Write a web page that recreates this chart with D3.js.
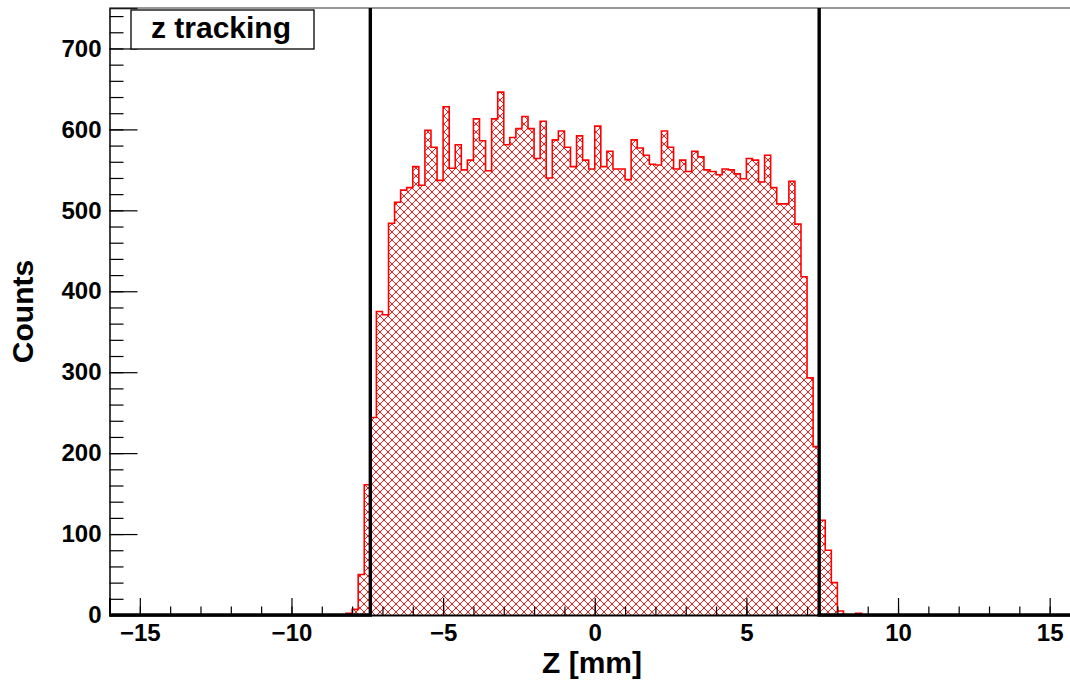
<!DOCTYPE html>
<html lang="en">
<head>
  <meta charset="UTF-8">
  <title>z tracking</title>
  <script src="https://d3js.org/d3.v7.min.js"></script>
  <style>
    body { margin: 0; background: white; }
    svg { display: block; font-family: "Liberation Sans", Arial, sans-serif; font-weight: bold; }
    .axis path, .axis line { stroke: black; }
    .axis text { font-size: 24px; font-weight: bold; fill: black; font-family: "Liberation Sans", Arial, sans-serif; }
  </style>
</head>
<body>
<svg id="chart" width="1070" height="681"></svg>
<script>
  // histogram: low edge of first filled bin, bin width, counts per bin
  const histLow = -8.2;
  const binWidth = 0.2;
  const counts = [
    2, 7, 50, 161, 244, 375, 371, 484, 510, 525,
    528, 554, 531, 599, 578, 537, 628, 552, 581, 550,
    562, 613, 586, 549, 613, 646, 581, 590, 601, 616,
    601, 564, 610, 540, 587, 598, 578, 554, 592, 562,
    551, 604, 554, 573, 551, 551, 538, 587, 577, 568,
    557, 556, 598, 578, 551, 562, 548, 573, 566, 550,
    548, 544, 551, 550, 545, 539, 564, 562, 535, 568,
    528, 508, 508, 536, 483, 418, 293, 208, 117, 80,
    40, 5, 0, 0, 2
  ];
  const cutLines = [-7.4, 7.4];          // vertical cut markers
  const xMajor = [-15, -10, -5, 0, 5, 10, 15];
  const yMajor = [0, 100, 200, 300, 400, 500, 600, 700];
  const xRange = [-16, 16];
  const yMax = 750;
  const titleText = "z tracking";
  const xTitle = "Z [mm]";
  const yTitle = "Counts";

  const svg = d3.select("#chart");
  const fLeft = 109.5, fRight = 1080, fTop = 8, fBottom = 615;

  const x = d3.scaleLinear().domain(xRange).range([fLeft, fRight]);
  const y = d3.scaleLinear().domain([0, yMax]).range([fBottom, fTop]);

  // crosshatch pattern like ROOT fill style
  const hp = 8;
  const defs = svg.append("defs");
  const pat = defs.append("pattern")
    .attr("id", "hatch")
    .attr("patternUnits", "userSpaceOnUse")
    .attr("width", hp).attr("height", hp);
  pat.append("path")
    .attr("d", `M0,0L${hp},${hp}M0,${hp}L${hp},0M-1,1L1,-1M${hp - 1},${hp + 1}L${hp + 1},${hp - 1}M-1,${hp - 1}L1,${hp + 1}M${hp - 1},-1L${hp + 1},1`)
    .attr("stroke", "#ff0000").attr("stroke-width", 0.9).attr("fill", "none");

  defs.append("clipPath").attr("id", "frame")
    .append("rect").attr("x", fLeft).attr("y", fTop).attr("width", fRight - fLeft).attr("height", fBottom - fTop);

  const bins = counts.map((c, i) => ({ x0: histLow + i * binWidth, x1: histLow + (i + 1) * binWidth, c: c }));

  // step outline
  let pts = [[x(bins[0].x0), y(0)]];
  bins.forEach(b => { pts.push([x(b.x0), y(b.c)]); pts.push([x(b.x1), y(b.c)]); });
  pts.push([x(bins[bins.length - 1].x1), y(0)]);

  const plot = svg.append("g").attr("clip-path", "url(#frame)");
  plot.append("path").datum(pts)
    .attr("d", d3.line())
    .attr("fill", "url(#hatch)")
    .attr("stroke", "#ff0000")
    .attr("stroke-width", 1.6);

  // minor y ticks
  svg.append("g").attr("class", "axis")
    .attr("transform", `translate(${fLeft},0)`)
    .call(d3.axisLeft(y).tickValues(d3.range(0, yMax + 1, 20)).tickSize(-14).tickFormat(""))
    .call(g => g.select(".domain").remove())
    .selectAll("line").attr("stroke-width", 1.2);

  // major y ticks + labels
  svg.append("g").attr("class", "axis")
    .attr("transform", `translate(${fLeft},0)`)
    .call(d3.axisLeft(y).tickValues(yMajor).tickSize(-28).tickPadding(8))
    .call(g => g.select(".domain").attr("stroke-width", 1.5))
    .call(g => g.selectAll("line").attr("stroke-width", 1.2));

  // minor x ticks
  svg.append("g").attr("class", "axis")
    .attr("transform", `translate(0,${fBottom})`)
    .call(d3.axisBottom(x).tickValues(d3.range(-16, 17, 1)).tickSize(-8.5).tickFormat(""))
    .call(g => g.select(".domain").remove())
    .selectAll("line").attr("stroke-width", 1.2);

  // major x ticks + labels
  svg.append("g").attr("class", "axis")
    .attr("transform", `translate(0,${fBottom})`)
    .call(d3.axisBottom(x).tickValues(xMajor).tickSize(-17).tickPadding(9)
      .tickFormat(d => d < 0 ? "\u2212" + Math.abs(d) : d))
    .call(g => g.select(".domain").attr("stroke-width", 2))
    .call(g => g.selectAll("line").attr("stroke-width", 1.2));

  // top frame line
  svg.append("line")
    .attr("x1", fLeft).attr("x2", fRight).attr("y1", fTop).attr("y2", fTop)
    .attr("stroke", "#333").attr("stroke-width", 1.2);

  // cut window: thick baseline outside cuts, vertical lines at cuts
  const cutPath = [
    [[x(xRange[0]), y(0)], [x(cutLines[0]), y(0)], [x(cutLines[0]), fTop]],
    [[x(cutLines[1]), fTop], [x(cutLines[1]), y(0)], [x(xRange[1]), y(0)]]
  ];
  svg.selectAll("path.cut").data(cutPath).join("path")
    .attr("class", "cut")
    .attr("d", d3.line())
    .attr("fill", "none")
    .attr("stroke", "black")
    .attr("stroke-width", 3.4);

  // title box
  svg.append("rect")
    .attr("x", 131).attr("y", 10).attr("width", 183).attr("height", 39)
    .attr("fill", "white").attr("stroke", "black").attr("stroke-width", 1.3);
  svg.append("text")
    .attr("x", 221).attr("y", 37.5)
    .attr("text-anchor", "middle")
    .attr("font-size", 30)
    .text(titleText);

  // axis titles
  svg.append("text")
    .attr("x", 592).attr("y", 673)
    .attr("text-anchor", "middle")
    .attr("font-size", 30)
    .text(xTitle);
  svg.append("text")
    .attr("transform", `translate(33,${(fTop + fBottom) / 2}) rotate(-90)`)
    .attr("text-anchor", "middle")
    .attr("font-size", 30)
    .text(yTitle);
</script>
</body>
</html>
